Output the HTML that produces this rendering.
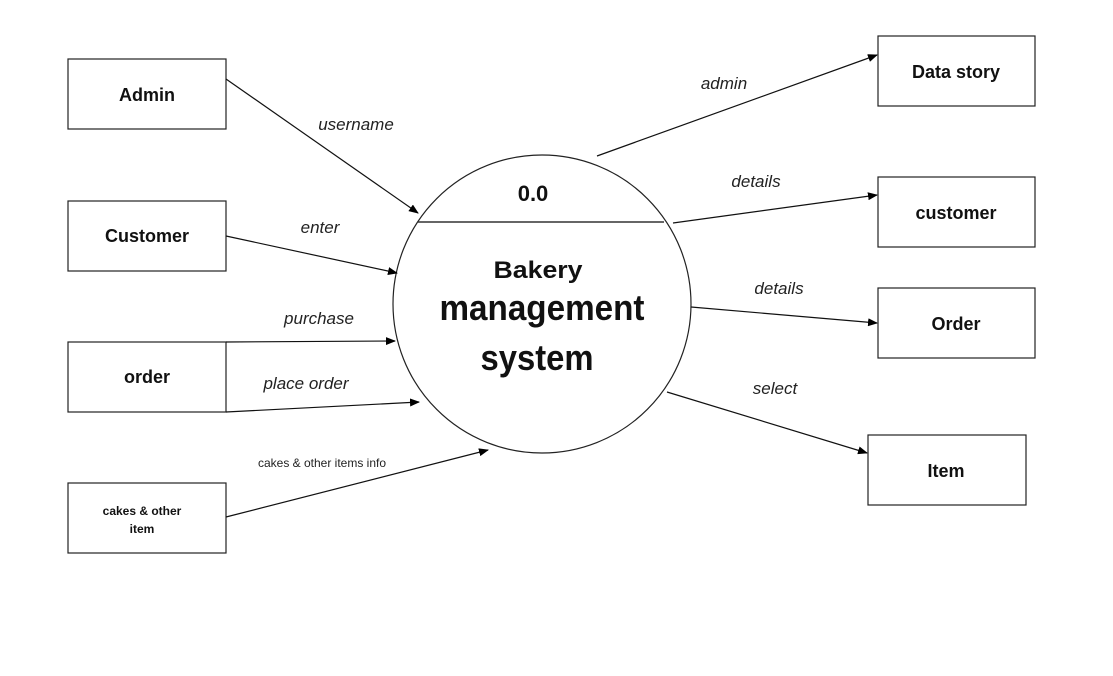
<!DOCTYPE html>
<html><head><meta charset="utf-8"><style>
body{margin:0;background:#fff}
svg{display:block}
text{font-family:"Liberation Sans",sans-serif}
</style></head><body>
<svg width="1113" height="676" viewBox="0 0 1113 676">
<defs><marker id="a" markerWidth="10" markerHeight="8" refX="9" refY="4" orient="auto" markerUnits="userSpaceOnUse"><path d="M0,0 L10,4 L0,8 Z" fill="#000"/></marker></defs>
<rect width="1113" height="676" fill="#fff"/>
<g fill="#fff" stroke="#222" stroke-width="1.2">
<rect x="68" y="59" width="158" height="70"/>
<rect x="68" y="201" width="158" height="70"/>
<rect x="68" y="342" width="158" height="70"/>
<rect x="68" y="483" width="158" height="70"/>
<rect x="878" y="36" width="157" height="70"/>
<rect x="878" y="177" width="157" height="70"/>
<rect x="878" y="288" width="157" height="70"/>
<rect x="868" y="435" width="158" height="70"/>
<circle cx="542" cy="304" r="149"/>
</g>
<line x1="418" y1="222" x2="664" y2="222" stroke="#333" stroke-width="1.5"/>
<g stroke="#111" stroke-width="1.2" marker-end="url(#a)">
<line x1="226" y1="79" x2="418" y2="213"/>
<line x1="226" y1="236" x2="397" y2="273"/>
<line x1="226" y1="342" x2="395" y2="341"/>
<line x1="226" y1="412" x2="419" y2="402"/>
<line x1="226" y1="517" x2="488" y2="450"/>
<line x1="597" y1="156" x2="877" y2="55"/>
<line x1="673" y1="223" x2="877" y2="195"/>
<line x1="691" y1="307" x2="877" y2="323"/>
<line x1="667" y1="392" x2="867" y2="453"/>
</g>
<g font-weight="bold" font-size="18" text-anchor="middle" fill="#111">
<text x="147" y="101">Admin</text>
<text x="147" y="242">Customer</text>
<text x="147" y="383">order</text>
<text x="956" y="78">Data story</text>
<text x="956" y="219">customer</text>
<text x="956" y="330">Order</text>
<text x="946" y="477">Item</text>
<text x="142" y="515" font-size="12">cakes &amp; other</text>
<text x="142" y="533" font-size="12">item</text>
<text x="533" y="201" font-size="22">0.0</text>
<text x="538" y="278" font-size="24" textLength="89" lengthAdjust="spacingAndGlyphs">Bakery</text>
<text x="542" y="320" font-size="36" textLength="205" lengthAdjust="spacingAndGlyphs">management</text>
<text x="537" y="370" font-size="36" textLength="113" lengthAdjust="spacingAndGlyphs">system</text>
</g>
<g font-style="italic" font-size="17" fill="#222" text-anchor="middle">
<text x="356" y="130">username</text>
<text x="320" y="233">enter</text>
<text x="319" y="324">purchase</text>
<text x="306" y="389">place order</text>
<text x="724" y="89">admin</text>
<text x="756" y="187">details</text>
<text x="779" y="294">details</text>
<text x="775" y="394">select</text>
<text x="322" y="467" font-style="normal" font-size="12">cakes &amp; other items info</text>
</g>
</svg>
</body></html>
